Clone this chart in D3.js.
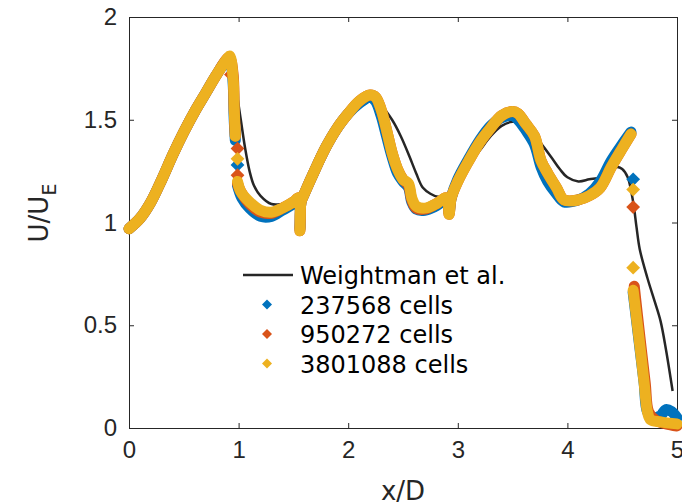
<!DOCTYPE html>
<html>
<head>
<meta charset="utf-8">
<script src="https://cdn.jsdelivr.net/npm/d3@7"></script>
<style>
  body { margin: 0; background: #fff; }
  svg { display: block; font-family: "DejaVu Sans", sans-serif; }
</style>
</head>
<body>
<svg id="chart" width="682" height="503"></svg>
<script>
// Weightman et al. (reference line)
var weightman = [[0,0.97],[0.1,1.02],[0.2,1.1],[0.3,1.21],[0.4,1.33],[0.5,1.44],[0.6,1.54],[0.7,1.63],[0.8,1.72],[0.9,1.79],
  [0.92,1.78],[0.95,1.72],[0.98,1.64],[1.02,1.5],[1.06,1.36],[1.1,1.25],[1.14,1.18],[1.2,1.13],[1.3,1.09],[1.4,1.09],[1.5,1.1],
  [1.55,1.12],[1.6,1.15],[1.7,1.26],[1.8,1.37],[1.9,1.46],[2.0,1.52],[2.1,1.57],[2.2,1.6],[2.25,1.59],[2.3,1.57],[2.4,1.5],
  [2.48,1.42],[2.56,1.32],[2.62,1.24],[2.68,1.17],[2.75,1.14],[2.82,1.125],[2.9,1.13],[3.0,1.19],[3.1,1.28],[3.2,1.35],[3.3,1.42],
  [3.4,1.47],[3.5,1.49],[3.58,1.48],[3.66,1.44],[3.75,1.39],[3.85,1.32],[3.93,1.26],[4.0,1.22],[4.1,1.2],[4.2,1.21],[4.3,1.22],
  [4.38,1.25],[4.45,1.27],[4.5,1.26],[4.55,1.22],[4.6,1.1],[4.63,0.98],[4.66,0.87],[4.73,0.73],[4.8,0.61],[4.85,0.52],[4.9,0.38],[4.96,0.18]];

// 237568 cells
var coarse = [[0,0.97],[0.1,1.02],[0.2,1.1],[0.3,1.21],[0.4,1.33],[0.5,1.44],[0.6,1.54],[0.7,1.63],[0.8,1.72],[0.9,1.79],
  [0.93,1.77],[0.95,1.68],[0.96,1.5],[0.97,1.4]];
var coarse2 = [[0.99,1.18],[1.03,1.12],[1.1,1.07],[1.2,1.03],[1.3,1.03],[1.4,1.06],
  [1.5,1.09],[1.55,1.11],[1.56,0.97],[1.57,1.1],[1.6,1.14],[1.7,1.26],[1.8,1.37],[1.9,1.46],[2.0,1.53],[2.1,1.58],[2.2,1.61],
  [2.25,1.59],[2.3,1.52],[2.35,1.42],[2.4,1.32],[2.45,1.24],[2.5,1.2],[2.55,1.17],[2.58,1.1],[2.62,1.065],[2.7,1.06],[2.8,1.08],
  [2.9,1.11],[2.92,1.05],[2.94,1.12],[3.0,1.21],[3.1,1.31],[3.2,1.4],[3.3,1.47],[3.4,1.51],[3.5,1.52],[3.55,1.5],[3.62,1.45],
  [3.7,1.38],[3.76,1.27],[3.82,1.2],[3.9,1.14],[3.97,1.1],[4.1,1.11],[4.2,1.14],[4.3,1.2],[4.4,1.3],[4.5,1.38],[4.58,1.44]];
var coarseTail = [[4.6,0.66],[4.65,0.44],[4.7,0.22],[4.73,0.08],[4.78,0.05],[4.85,0.06],[4.9,0.09],[4.95,0.08],[5.0,0.05]];
var coarseDots = [[0.99,1.28],[4.6,1.21]];

// 950272 cells
var medium = [[0,0.97],[0.1,1.02],[0.2,1.1],[0.3,1.21],[0.4,1.33],[0.5,1.44],[0.6,1.54],[0.7,1.63],[0.8,1.72],[0.9,1.8],
  [0.92,1.8],[0.95,1.72],[0.96,1.55],[0.97,1.42]];
var medium2 = [[0.99,1.19],[1.02,1.15],[1.1,1.09],[1.2,1.05],[1.3,1.045],[1.4,1.07],
  [1.5,1.1],[1.55,1.12],[1.56,0.96],[1.57,1.1],[1.6,1.14],[1.7,1.26],[1.8,1.37],[1.9,1.46],[2.0,1.53],[2.1,1.59],[2.2,1.62],
  [2.25,1.61],[2.3,1.55],[2.35,1.45],[2.4,1.34],[2.45,1.26],[2.5,1.21],[2.55,1.18],[2.58,1.11],[2.62,1.07],[2.7,1.065],[2.8,1.09],
  [2.9,1.12],[2.92,1.04],[2.94,1.12],[3.0,1.2],[3.1,1.3],[3.2,1.39],[3.3,1.46],[3.4,1.52],[3.5,1.54],[3.55,1.53],[3.62,1.48],
  [3.7,1.42],[3.76,1.3],[3.82,1.24],[3.9,1.17],[3.97,1.11],[4.1,1.11],[4.2,1.13],[4.3,1.17],[4.4,1.27],[4.5,1.36],[4.58,1.43]];
var mediumTail = [[4.61,0.69],[4.66,0.45],[4.71,0.22],[4.74,0.08],[4.8,0.04],[4.9,0.02],[5.0,0.01]];
var mediumDots = [[0.93,1.72],[0.99,1.36],[0.99,1.23],[4.6,1.075]];

// 3801088 cells
var fine = [[0,0.97],[0.1,1.02],[0.2,1.1],[0.3,1.21],[0.4,1.33],[0.5,1.44],[0.6,1.54],[0.7,1.63],[0.8,1.72],[0.9,1.8],
  [0.92,1.81],[0.95,1.7],[0.96,1.55],[0.97,1.42]];
var fine2 = [[0.99,1.2],[1.02,1.15],[1.1,1.1],[1.2,1.06],[1.3,1.05],[1.4,1.07],[1.5,1.1],[1.55,1.12],[1.56,0.96],[1.57,1.1],
  [1.6,1.14],[1.7,1.26],[1.8,1.37],[1.9,1.46],[2.0,1.53],[2.1,1.59],[2.2,1.62],[2.25,1.61],[2.3,1.55],[2.35,1.45],[2.4,1.34],
  [2.45,1.26],[2.5,1.21],[2.55,1.19],[2.58,1.12],[2.62,1.08],[2.7,1.07],[2.8,1.09],[2.9,1.12],[2.92,1.04],[2.94,1.12],[3.0,1.2],
  [3.1,1.3],[3.2,1.39],[3.3,1.46],[3.4,1.52],[3.5,1.54],[3.55,1.53],[3.62,1.48],[3.7,1.42],[3.76,1.3],[3.82,1.24],[3.9,1.17],
  [3.97,1.11],[4.1,1.11],[4.2,1.13],[4.3,1.17],[4.4,1.27],[4.5,1.36],[4.58,1.43]];
var fineTail = [[4.6,0.67],[4.65,0.45],[4.7,0.22],[4.73,0.08],[4.76,0.04],[4.85,0.03],[5.0,0.02]];
var fineDots = [[0.99,1.31],[4.6,1.16],[4.6,0.78]];

var xTicks = [0, 1, 2, 3, 4, 5];
var yTicks = [0, 0.5, 1, 1.5, 2];
var legendLabels = ["Weightman et al.", "237568 cells", "950272 cells", "3801088 cells"];
var colors = ["#262626", "#0072BD", "#D95319", "#EDB120"];

var svg = d3.select("#chart");
var x = d3.scaleLinear().domain([0, 5]).range([129, 677]);
var y = d3.scaleLinear().domain([0, 2]).range([428, 17]);
var axisColor = "#262626";

var line = d3.line()
    .x(function(d) { return x(d[0]); })
    .y(function(d) { return y(d[1]); })
    .curve(d3.curveCatmullRom);

var diamond = d3.symbol().type(d3.symbolSquare).size(95);

// axes
function styleAxis(g) {
    g.selectAll("path, line").attr("stroke", axisColor).attr("stroke-width", 1);
    g.selectAll("text").attr("fill", axisColor).style("font-size", "24px");
}
svg.append("g").attr("transform", "translate(0,428)")
    .call(d3.axisBottom(x).tickValues(xTicks).tickSize(-5).tickPadding(13).tickSizeOuter(0).tickFormat(d3.format("~g")))
    .call(styleAxis);
svg.append("g").attr("transform", "translate(129,0)")
    .call(d3.axisLeft(y).tickValues(yTicks).tickSize(-5).tickPadding(12).tickSizeOuter(0).tickFormat(d3.format("~g")))
    .call(styleAxis);
svg.append("g").attr("transform", "translate(0,17)")
    .call(d3.axisTop(x).tickValues(xTicks).tickSize(-5).tickSizeOuter(0).tickFormat(""))
    .call(styleAxis);
svg.append("g").attr("transform", "translate(677,0)")
    .call(d3.axisRight(y).tickValues(yTicks).tickSize(-5).tickSizeOuter(0).tickFormat(""))
    .call(styleAxis);

// reference line
svg.append("path").datum(weightman)
    .attr("d", line).attr("fill", "none")
    .attr("stroke", colors[0]).attr("stroke-width", 2.5);

// simulation series: dense markers drawn as a thick band
var series = [
    { parts: [coarse, coarse2, coarseTail], dots: coarseDots, color: colors[1] },
    { parts: [medium, medium2, mediumTail], dots: mediumDots, color: colors[2] },
    { parts: [fine, fine2, fineTail], dots: fineDots, color: colors[3] }
];
series.forEach(function(s) {
    s.parts.forEach(function(p) {
        svg.append("path").datum(p)
            .attr("d", line).attr("fill", "none")
            .attr("stroke", s.color).attr("stroke-width", 11)
            .attr("stroke-linecap", "round").attr("stroke-linejoin", "round");
    });
    svg.selectAll(null).data(s.dots).enter().append("path")
        .attr("d", diamond)
        .attr("transform", function(d) { return "translate(" + x(d[0]) + "," + y(d[1]) + ") rotate(45)"; })
        .attr("fill", s.color);
});

// legend
var lg = svg.append("g");
legendLabels.forEach(function(label, i) {
    var cy = 275 + i * 29.5;
    if (i === 0) {
        lg.append("line").attr("x1", 243).attr("x2", 293).attr("y1", cy).attr("y2", cy)
            .attr("stroke", colors[0]).attr("stroke-width", 2.5);
    } else {
        lg.append("path").attr("d", d3.symbol().type(d3.symbolSquare).size(50))
            .attr("transform", "translate(267," + cy + ") rotate(45)")
            .attr("fill", colors[i]);
    }
    lg.append("text").attr("x", 300).attr("y", cy + 9)
        .attr("fill", "#000").style("font-size", "24px").text(label);
});

// axis labels
svg.append("text").attr("x", 403).attr("y", 500)
    .attr("text-anchor", "middle").attr("fill", axisColor)
    .style("font-size", "26px").text("x/D");
var yl = svg.append("text")
    .attr("transform", "translate(48,213) rotate(-90)")
    .attr("text-anchor", "middle").attr("fill", axisColor)
    .style("font-size", "26px");
yl.append("tspan").text("U/U");
yl.append("tspan").attr("dy", 8).style("font-size", "19px").text("E");
</script>
</body>
</html>
